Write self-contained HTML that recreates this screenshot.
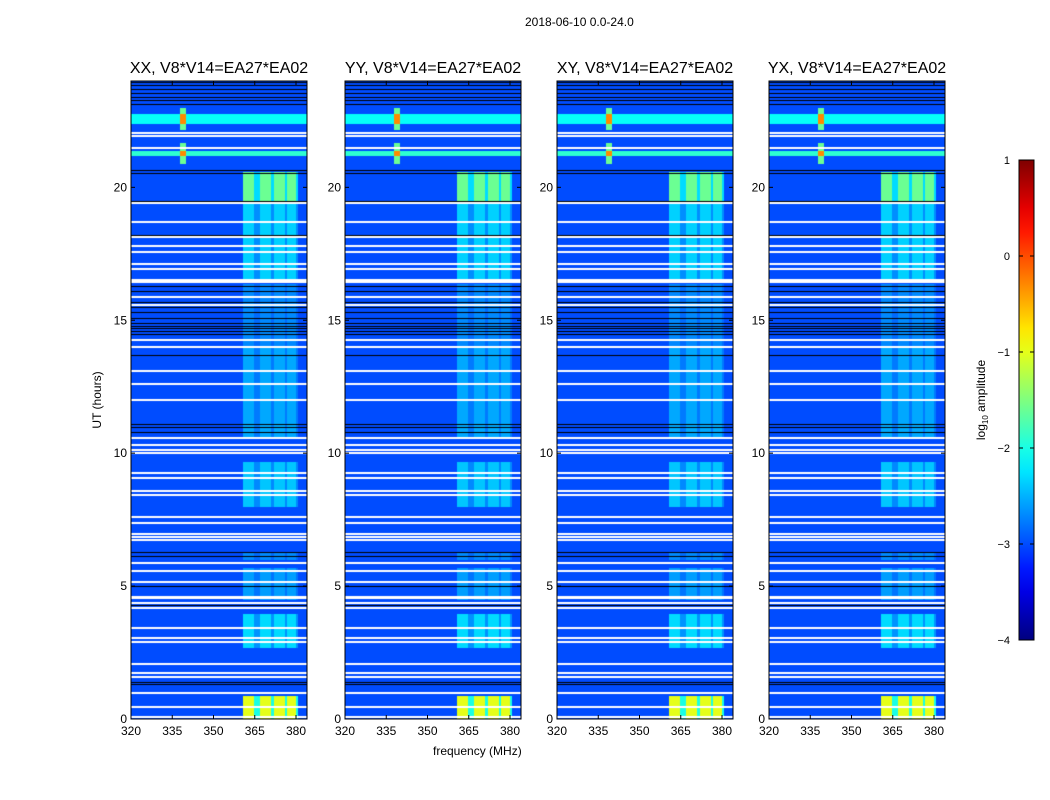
<!DOCTYPE html>
<html><head><meta charset="utf-8">
<style>
body{margin:0;background:#fff;font-family:"Liberation Sans",sans-serif;}
#root{position:relative;width:1050px;height:800px;overflow:hidden;}
.t{position:absolute;font-size:12px;color:#000;white-space:nowrap;}
canvas{position:absolute;}
</style></head><body>
<div id="root">
<div class="t" style="left:525px;top:15px">2018-06-10 0.0-24.0</div>
<div class="t" style="left:433px;top:744px">frequency (MHz)</div>
<div class="t" style="left:97px;top:400px;transform:translate(-50%,-50%) rotate(-90deg)">UT (hours)</div>
<div class="t" style="left:982px;top:400px;transform:translate(-50%,-50%) rotate(-90deg)">log<sub style="font-size:8px">10</sub> amplitude</div>
<svg id="ov" width="1050" height="800" style="position:absolute;left:0;top:0"></svg>
</div>
<script>
// ---- data ----
const panelTitles=["XX, V8*V14=EA27*EA02","YY, V8*V14=EA27*EA02","XY, V8*V14=EA27*EA02","YX, V8*V14=EA27*EA02"];
const xTicks=[320,335,350,365,380];
const yTicks=[0,5,10,15,20];
const cbTicks=[1,0,-1,-2,-3,-4];
const baseLevel=-3.0;
const bandCols=[[361,365],[367,371],[372,376],[377,380]];
const bandSegStart=[0,2.7,4.5,6.0,8.0,10.6,14.0,16.6,19.5];
const bandSegEnd=[0.95,4.0,5.7,6.3,9.7,14.0,16.4,19.4,20.6];
const bandSegLevel=[-1.0,-2.3,-2.6,-2.7,-2.4,-2.55,-2.7,-2.35,-1.6];
const rfiRowStart=[22.4,21.25];
const rfiRowEnd=[22.8,21.4];
const rfiRowLevel=[-2.1,-1.9];
const rfiSpotFreq=339;
const rfiSpotLevel=-0.3;
const whiteLines=[22.03,21.93,21.47,19.40,18.71,18.12,17.80,17.56,17.12,16.92,16.5,16.45,15.88,15.57,14.26,14.0,13.09,12.59,12.0,10.56,10.31,10.12,10.0,9.24,9.05,8.59,8.43,7.61,7.38,6.96,6.84,6.73,5.86,5.58,5.17,4.59,4.55,4.35,4.16,3.43,3.03,2.91,2.06,1.72,1.57,0.96,0.44,0.06];
const blackLines=[23.95,23.85,23.7,23.55,23.4,23.3,23.15,20.65,20.55,19.5,18.2,16.3,16.1,15.9,15.7,15.5,15.3,15.1,14.9,14.8,14.7,14.6,14.5,13.7,11.1,11.0,10.8,7.0,6.3,6.15,5.0,4.3,1.3,1.4];
// ---- layout ----
const panelX=[131,345,557,769], PW=176, PY0=81, PY1=719;
const fmin=320,fmax=384,tmin=0,tmax=24;
function jet(v){v=Math.max(0,Math.min(1,v));
 const r=Math.min(Math.max(Math.min(4*v-1.5,-4*v+4.5),0),1);
 const g=Math.min(Math.max(Math.min(4*v-0.5,-4*v+3.5),0),1);
 const b=Math.min(Math.max(Math.min(4*v+0.5,-4*v+2.5),0),1);
 return `rgb(${r*255|0},${g*255|0},${b*255|0})`;}
function norm(val){return (val+4)/5;}
function value(t,f){
 let v=baseLevel;
 for(let i=0;i<bandSegStart.length;i++){
  if(t>=bandSegStart[i]&&t<bandSegEnd[i]){
   if(f>=361&&f<381) v=Math.max(v,(bandSegLevel[i]+baseLevel)/2);
   for(const c of bandCols){ if(f>=c[0]&&f<=c[1]) v=Math.max(v,bandSegLevel[i]); }
  }}
 for(let i=0;i<rfiRowStart.length;i++){
  if(t>=rfiRowStart[i]&&t<rfiRowEnd[i]){ v=Math.max(v,rfiRowLevel[i]); if(Math.abs(f-rfiSpotFreq)<1.5) v=rfiSpotLevel; }
  const mid=(rfiRowStart[i]+rfiRowEnd[i])/2;
  if(Math.abs(f-rfiSpotFreq)<1 && Math.abs(t-mid)<0.4) v=Math.max(v,-1.6);
 }
 return v;}
const ov=document.getElementById('ov'), root=document.getElementById('root');
const NS='http://www.w3.org/2000/svg';
function ln(x1,y1,x2,y2,c,w){const l=document.createElementNS(NS,'line');
 l.setAttribute('x1',x1);l.setAttribute('y1',y1);l.setAttribute('x2',x2);l.setAttribute('y2',y2);
 l.setAttribute('stroke',c);l.setAttribute('stroke-width',w);ov.appendChild(l);return l;}
function label(txt,x,y,anchor,fs){const t=document.createElementNS(NS,'text');
 t.setAttribute('x',x);t.setAttribute('y',y);t.setAttribute('text-anchor',anchor);
 t.setAttribute('font-size',fs||12);t.setAttribute('font-family','Liberation Sans, sans-serif');
 t.textContent=txt;ov.appendChild(t);return t;}
panelX.forEach((x0,p)=>{
 const xs=f=>x0+(f-fmin)/(fmax-fmin)*PW;
 const ys=t=>PY1-(t-tmin)/(tmax-tmin)*(PY1-PY0);
 const cv=document.createElement('canvas');
 cv.width=PW;cv.height=PY1-PY0;cv.style.left=x0+'px';cv.style.top=PY0+'px';
 
 
 root.insertBefore(cv,ov);
 const g=cv.getContext('2d');
 for(let t=tmin;t<tmax;t+=0.1){for(let f=fmin;f<fmax;f+=1){
  g.fillStyle=jet(norm(value(t+0.05,f+0.5)));
  const a=xs(f)-x0,b=ys(t+0.1)-PY0;
  g.fillRect(Math.floor(a),Math.floor(b),Math.ceil(xs(f+1)-xs(f))+1,Math.ceil(ys(t)-ys(t+0.1))+1);}}
 g.fillStyle='#000';blackLines.forEach(t=>g.fillRect(0,Math.round(ys(t)-PY0),PW,1));
 g.fillStyle='#fff';whiteLines.forEach(t=>g.fillRect(0,Math.round(ys(t)-PY0)-1,PW,2));
 const fr=document.createElementNS(NS,'rect');
 fr.setAttribute('x',x0);fr.setAttribute('y',PY0);fr.setAttribute('width',PW);fr.setAttribute('height',PY1-PY0);
 fr.setAttribute('fill','none');fr.setAttribute('stroke','#000');fr.setAttribute('stroke-width',1);
 ov.appendChild(fr);
 xTicks.forEach(v=>{const x=xs(v);ln(x,PY1,x,PY1-4,'#000',1);ln(x,PY0,x,PY0+4,'#000',1);
  const l=label(v,x,PY1+16,'middle');});
 yTicks.forEach(v=>{const y=ys(v);ln(x0,y,x0+4,y,'#000',1);ln(x0+PW,y,x0+PW-4,y,'#000',1);
  const l=label(v,x0-4,y+4,'end');});
 const tt=label(panelTitles[p],x0+PW/2,73,'middle',16);
 
});
// colorbar
const cbx=1019,cbw=15,cby0=160,cby1=640;
const defs=document.createElementNS(NS,'defs');
const lg=document.createElementNS(NS,'linearGradient');lg.setAttribute('id','jetg');
lg.setAttribute('x1',0);lg.setAttribute('y1',1);lg.setAttribute('x2',0);lg.setAttribute('y2',0);
for(let i=0;i<=20;i++){const s=document.createElementNS(NS,'stop');s.setAttribute('offset',i/20);s.setAttribute('stop-color',jet(i/20));lg.appendChild(s);}
defs.appendChild(lg);ov.appendChild(defs);
const cb=document.createElementNS(NS,'rect');
cb.setAttribute('x',cbx);cb.setAttribute('y',cby0);cb.setAttribute('width',cbw);cb.setAttribute('height',cby1-cby0);
cb.setAttribute('fill','url(#jetg)');cb.setAttribute('stroke','#000');
ov.appendChild(cb);
cbTicks.forEach(v=>{const y=cby1-(v+4)/5*(cby1-cby0);ln(cbx,y,cbx+4,y,'#000',1);ln(cbx+cbw,y,cbx+cbw-4,y,'#000',1);
 const l=label(v<0?'\u2212'+(-v):String(v),1010,y+4,'end',11);});
</script>
</body></html>
